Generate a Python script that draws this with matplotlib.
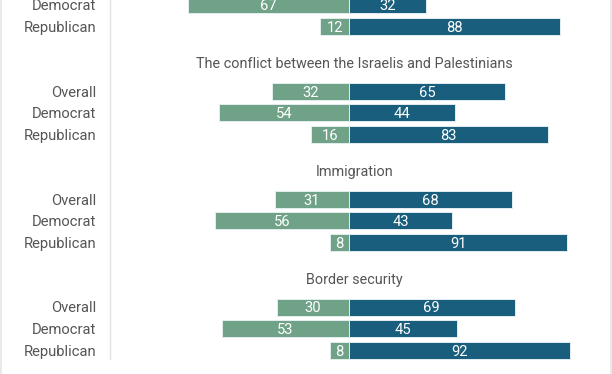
import matplotlib
matplotlib.use("Agg")
import matplotlib.pyplot as plt
from matplotlib.lines import Line2D

plt.rcParams['font.family'] = ['Roboto', 'DejaVu Sans']

# ---- data ----
section_titles = ["", "The conflict between the Israelis and Palestinians",
                  "Immigration", "Border security"]
section_groups = [["Democrat", "Republican"],
                  ["Overall", "Democrat", "Republican"],
                  ["Overall", "Democrat", "Republican"],
                  ["Overall", "Democrat", "Republican"]]
left_values = [[67, 12], [32, 54, 16], [31, 56, 8], [30, 53, 8]]
right_values = [[32, 88], [65, 44, 83], [68, 43, 91], [69, 45, 92]]

GREEN = "#6fa287"
BLUE = "#195e7c"
TEXT = "#555555"

W, H = 612, 374
fig = plt.figure(figsize=(W / 100, H / 100), dpi=100)
ax = fig.add_axes([0, 0, 1, 1])
s = 2.40          # pixels per percentage point
zero_px = 349
ax.set_xlim(-zero_px / s, (W - zero_px) / s)
ax.set_ylim(H, 0)
ax.axis("off")

def px_to_x(px):
    return (px - zero_px) / s

row_gap = 21.7
sec_gap = 108
first_overall = 91 - sec_gap
bar_h = 17
FS = 10.6

for k, (title, groups, lv, rv) in enumerate(zip(section_titles, section_groups,
                                                  left_values, right_values)):
    base = first_overall + k * sec_gap
    offset = 3 - len(groups)
    if title:
        ax.text(px_to_x(354.5), base - 23, title, ha="center", va="baseline",
                fontsize=10.4, color=TEXT)
    for j, (g, l, r) in enumerate(zip(groups, lv, rv)):
        y = base + (j + offset) * row_gap
        ax.barh(y, -l, height=bar_h, color=GREEN, edgecolor="#e3edf1", linewidth=0.7)
        ax.barh(y, r, height=bar_h, color=BLUE, edgecolor="#e3edf1", linewidth=0.7)
        ax.text(-l / 2, y, str(l), ha="center", va="center_baseline", color="white", fontsize=FS)
        ax.text(r / 2, y, str(r), ha="center", va="center_baseline", color="white", fontsize=FS)
        ax.text(px_to_x(96), y, g, ha="right", va="center_baseline", color=TEXT, fontsize=FS)

# axis line and frame
fig.add_artist(Line2D([109.5 / W, 109.5 / W], [1 - 359 / H, 1], color="#e2e2e2", lw=1))
fig.add_artist(Line2D([0.5 / W, 0.5 / W], [0, 1], color="#e6e6e6", lw=1.2))
fig.add_artist(Line2D([1 - 1.5 / W, 1 - 1.5 / W], [0, 1], color="#e6e6e6", lw=1.2))

fig.savefig("out.png", dpi=100)
